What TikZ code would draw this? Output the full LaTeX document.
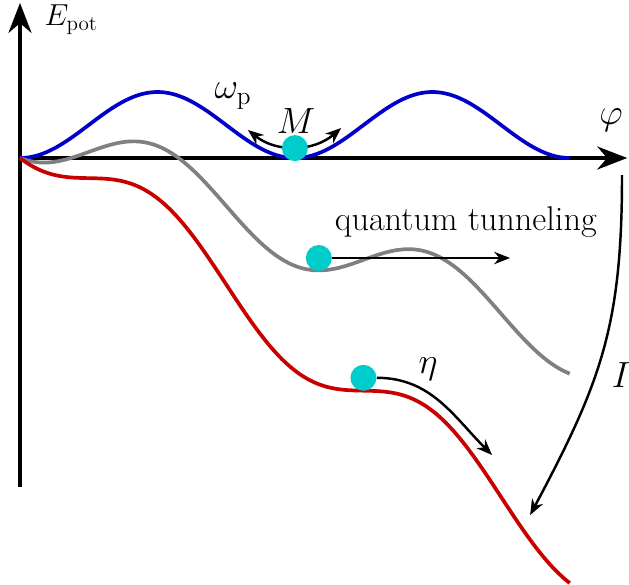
\documentclass[tikz,border=0pt]{standalone}
\usepackage{amsmath}
\usepackage{tikz}
\usetikzlibrary{positioning, arrows.meta, calc}
\definecolor{potblue}{RGB}{0,0,200}
\definecolor{potgray}{RGB}{128,128,128}
\definecolor{potred}{RGB}{200,0,0}
\definecolor{ballcyan}{RGB}{0,204,204}

\begin{document}
\begin{tikzpicture}[x=0.875cm, y=0.66cm,
	axis/.style={line width=2.6pt, -{Stealth[length=17pt, width=13pt]}},
	potential/.style={line width=2.1pt, domain=0:12.566, samples=200, smooth},
	ball/.style={circle, fill=ballcyan, minimum size=0.52cm, inner sep=0pt},
	arrow/.style={line width=1.4pt, -{Stealth[length=9pt, width=7pt]}},
	txt/.style={font=\fontsize{19.5}{23}\selectfont},
	]
	\useasboundingbox (-0.457,-12.91) rectangle (13.92,4.788);
	% axes
	\coordinate (origin) at (0,0);
	\coordinate (ytop) at (0,4.70);
	\coordinate (ybottom) at (0,-9.97);
	\coordinate (xright) at (13.88,0);
	\draw[axis] (ybottom) -- (ytop);
	\draw[axis] (origin) -- (xright);
	\node[txt, font=\fontsize{17.5}{21}\selectfont, anchor=west] (epot) at (0.42,4.2) {$E_{\mathrm{pot}}$};
	\node[txt] (phi) at (13.51,1.15) {$\varphi$};
	% tilted washboard
	\draw[potential, potblue] plot (\x, {1-cos(\x r)});
	\draw[potential, potgray] plot (\x, {1-cos(\x r)-0.52*\x});
	\draw[potential, potred] plot (\x, {1-cos(\x r)-1.025*\x});
	% plasma oscillation
	\coordinate (wleft) at (5.21,0.85);
	\coordinate (wright) at (7.34,0.91);
	\draw[arrow, {Stealth[length=9pt, width=7pt]}-{Stealth[length=9pt, width=7pt]}] (wleft) to[bend right=40] (wright);
	\node[ball] (mzero) at (6.283,0.30) {};
	\node[txt] (omegap) at (4.87,1.88) {$\omega_{\mathrm{p}}$};
	\node[txt] (mass) at (6.31,1.12) {$M$};
	% tunneling
	\node[ball] (mtunnel) at (6.83,-3.03) {};
	\coordinate (tunnelend) at (11.2,-3.03);
	\draw[arrow] (mtunnel) -- (tunnelend);
	\node[txt] (tunnel) at (10.19,-1.94) {quantum tunneling};
	% running state
	\node[ball] (mrun) at (7.85,-6.66) {};
	\coordinate (etaend) at (10.79,-9.0);
	\draw[arrow] (mrun.east) to[out=0, in=135] (etaend);
	\node[txt] (eta) at (9.33,-6.39) {$\eta$};
	% bias current
	\coordinate (istart) at (13.76,-0.52);
	\coordinate (iend) at (11.66,-10.82);
	\draw[arrow] (istart) to[out=-90, in=62, looseness=1.1] (iend);
	\node[txt] (bias) at (13.74,-6.58) {$I$};
\end{tikzpicture}
\end{document}
